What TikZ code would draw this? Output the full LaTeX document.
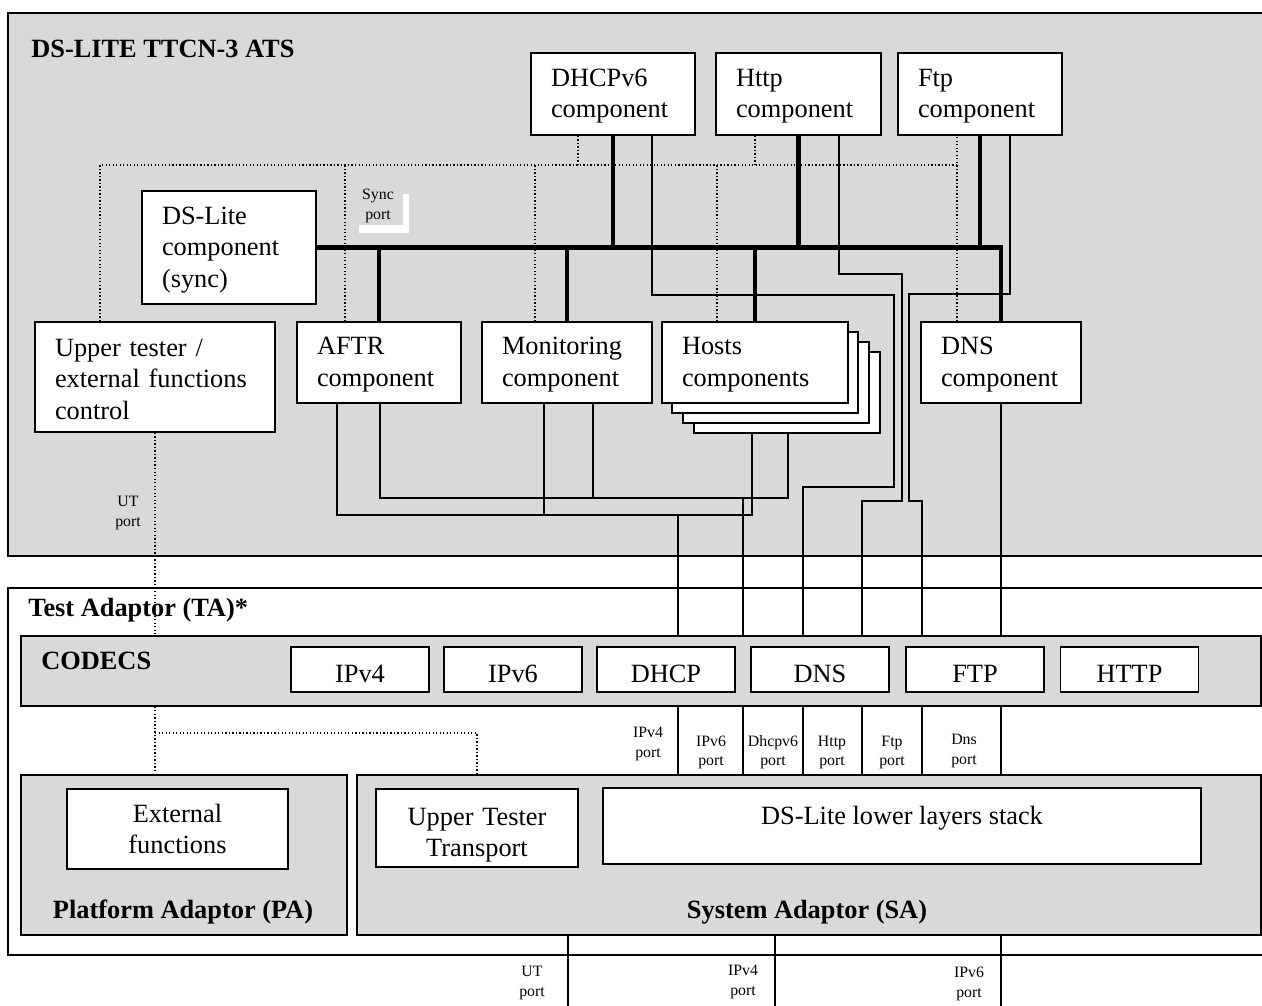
\documentclass[tikz,border=0pt]{standalone}
\usepackage{fontspec}
\setmainfont{Liberation Serif}
\usepackage{xcolor}
\usepackage{tikz}
\usetikzlibrary{positioning}
\definecolor{boxgray}{RGB}{217,217,217}

\begin{document}
\begin{tikzpicture}[x=0.02cm, y=-0.02cm,
  font=\fontsize{15}{18}\selectfont,
  every node/.style={align=center},
  frame/.style={draw, line width=1pt, inner sep=0pt},
  comp/.style={draw, fill=white, line width=1pt, align=left, inner xsep=0.4cm, inner ysep=0pt, minimum height=1.62cm, text height=12.5pt},
  codec/.style={draw, fill=white, line width=1pt, minimum width=2.76cm, minimum height=0.9cm, text height=15pt, text depth=0pt, inner sep=0pt},
  ttl/.style={font=\fontsize{15}{18}\selectfont\bfseries, inner sep=0pt},
  port/.style={font=\fontsize{9}{11}\selectfont, inner sep=0pt},
  bus/.style={line width=2.8pt},
  sig/.style={line width=0.8pt},
  dot/.style={line width=0.7pt, dash pattern=on 0.7pt off 1.3pt}]

\useasboundingbox (0,0) rectangle (1262,1006);
\clip (0,0) rectangle (1262,1006);

% ---------------- containers ----------------
\node[frame, fill=boxgray, anchor=north west, minimum width=25.26cm, minimum height=10.86cm] (ats) at (7,12) {};
\node[frame, fill=white, anchor=north west, minimum width=25.26cm, minimum height=7.34cm] (ta) at (7,587) {};
\node[frame, fill=boxgray, anchor=north west, minimum width=24.8cm, minimum height=1.4cm] (codecs) at (20,635) {};
\node[frame, fill=boxgray, anchor=north west, minimum width=6.52cm, minimum height=3.2cm] (pa) at (20,774) {};
\node[frame, fill=boxgray, anchor=north west, minimum width=18.08cm, minimum height=3.2cm] (sa) at (356,774) {};

\node[ttl, anchor=base west] (atst) at (31,58) {DS-LITE TTCN-3 ATS};
\node[ttl, anchor=base west] (tat) at (28,617) {Test Adaptor (TA)*};
\node[ttl, anchor=base west] (codecst) at (41,670) {CODECS};
\node[ttl, anchor=base] (pat) at (183,918) {Platform Adaptor (PA)};
\node[ttl, anchor=base] (sat) at (807,918) {System Adaptor (SA)};

% ---------------- test components ----------------
\node[comp, minimum width=3.28cm, minimum height=1.64cm, text width=2.48cm] (dhcp) at (613,94) {DHCPv6\\component};
\node[comp, minimum width=3.3cm, minimum height=1.64cm, text width=2.5cm] (http) at (798.5,94) {Http\\component};
\node[comp, minimum width=3.28cm, minimum height=1.64cm, text width=2.48cm] (ftp) at (980,94) {Ftp\\component};
\node[comp, minimum width=3.48cm, minimum height=2.26cm, text width=2.68cm] (dsl) at (229,247.5) {DS-Lite\\component\\(sync)};
\node[comp, minimum width=4.8cm, minimum height=2.2cm, text width=4cm] (ut) at (155,377) {Upper tester /\\external functions\\control};
\node[comp, minimum width=3.28cm, text width=2.48cm] (aftr) at (379,362.5) {AFTR\\component};
\node[comp, minimum width=3.4cm, text width=2.6cm] (mon) at (567,362.5) {Monitoring\\component};
\node[comp, minimum width=3.72cm] (hosts3) at (787,392.5) {};
\node[comp, minimum width=3.72cm] (hosts2) at (776,382.5) {};
\node[comp, minimum width=3.72cm] (hosts1) at (765,372.5) {};
\node[comp, minimum width=3.72cm, text width=2.92cm] (hosts) at (755,362.5) {Hosts\\components};
\node[comp, minimum width=3.2cm, text width=2.4cm] (dns) at (1001,362.5) {DNS\\component};

% ---------------- codecs and adaptors ----------------
\node[codec] (ipv4) at (360,669.5) {IPv4};
\node[codec] (ipv6) at (513,669.5) {IPv6};
\node[codec] (dhcpc) at (666,669.5) {DHCP};
\node[codec] (dnsc) at (820,669.5) {DNS};
\node[codec] (ftpc) at (975,669.5) {FTP};
\node[codec] (httpc) at (1129.5,669.5) {HTTP};
\node[frame, fill=white, minimum width=4.42cm, minimum height=1.6cm] (ext) at (177.5,829) {External\\functions};
\node[frame, fill=white, minimum width=4.04cm, minimum height=1.56cm, text width=3.6cm, text height=18pt] (utt) at (477,828) {Upper Tester\\Transport};
\node[frame, fill=white, minimum width=11.96cm, minimum height=1.52cm, text height=10pt, text depth=12pt] (stack) at (902,826) {DS-Lite lower layers stack};

% ---------------- sync ports (dotted) ----------------
\coordinate (sync) at (0,165);
\draw[dot] (ut.north -| 100,0) -- (sync -| 100,0) -- (sync -| 957,0);
\draw[dot] (aftr.north -| 345,0) -- (sync -| 345,0);
\draw[dot] (mon.north -| 535,0) -- (sync -| 535,0);
\draw[dot] (hosts.north -| 717,0) -- (sync -| 717,0);
\draw[dot] (dns.north -| 957,0) -- (ftp.south -| 957,0);
\draw[dot] (dhcp.south -| 578,0) -- (sync -| 578,0);
\draw[dot] (http.south -| 755,0) -- (sync -| 755,0);
\fill[white] (359,225) rectangle (409,233);
\fill[white] (403,194) rectangle (409,233);
\node[port] (syncp) at (378,206) {Sync\\port};

% ---------------- sync bus (thick) ----------------
\draw[bus] (dsl.east) -| (dns.north);
\draw[bus] (dhcp.south) -- (dhcp.south |- dsl.east);
\draw[bus] (http.south) -- (http.south |- dsl.east);
\draw[bus] (ftp.south) -- (ftp.south |- dsl.east);
\draw[bus] (aftr.north) -- (aftr.north |- dsl.east);
\draw[bus] (mon.north) -- (mon.north |- dsl.east);
\draw[bus] (hosts.north) -- (hosts.north |- dsl.east);

% ---------------- test ports ----------------
\draw[sig] (aftr.south -| 337,0) |- (678,515) -| (hosts3.south -| 752,0);
\draw[sig] (mon.south -| 544,0) -- (544,515);
\draw[sig] (678,515) -- (codecs.north -| 678,0);
\draw[sig] (aftr.south -| 380,0) |- (743,498) -| (hosts3.south -| 788,0);
\draw[sig] (mon.south -| 593,0) -- (593,498);
\draw[sig] (743,498) -- (codecs.north -| 743,0);
\draw[sig] (dhcp.south -| 652,0) |- (894,295) |- (803,487) -- (codecs.north -| 803,0);
\draw[sig] (http.south -| 839,0) |- (902,274) |- (862,501) -- (codecs.north -| 862,0);
\draw[sig] (ftp.south -| 1010,0) |- (909,294) |- (922,501) -- (codecs.north -| 922,0);
\draw[sig] (dns.south) -- (codecs.north -| dns.south);

% codecs -> system adaptor
\draw[sig] (codecs.south -| 678,0) -- (sa.north -| 678,0);
\draw[sig] (codecs.south -| 743,0) -- (sa.north -| 743,0);
\draw[sig] (codecs.south -| 803,0) -- (sa.north -| 803,0);
\draw[sig] (codecs.south -| 862,0) -- (sa.north -| 862,0);
\draw[sig] (codecs.south -| 922,0) -- (sa.north -| 922,0);
\draw[sig] (codecs.south -| dns.south) -- (sa.north -| dns.south);
\node[port] (ipv4p) at (648,744) {IPv4\\port};
\node[port] (ipv6p) at (711,752.5) {IPv6\\port};
\node[port] (dhcpp) at (773,752.5) {Dhcpv6\\port};
\node[port] (httpp) at (832,752.5) {Http\\port};
\node[port] (ftpp) at (892,752.5) {Ftp\\port};
\node[port] (dnsp) at (964,751) {Dns\\port};

% upper tester port
\draw[dot] (ut.south) -- (ut.south |- codecs.north);
\draw[dot] (ut.south |- codecs.south) -- (ut.south |- pa.north);
\draw[dot] (ut.south |- 0,733) -| (utt.north |- sa.north);
\node[port] (utp) at (128,513) {UT\\port};

% ---------------- system adaptor to SUT ----------------
\draw[sig] (sa.south -| 568,0) -- (568,1006);
\draw[sig] (sa.south -| 775,0) -- (775,1006);
\draw[sig] (sa.south -| dns.south) -- (dns.south |- 0,1006);
\node[port] (utbp) at (532,983) {UT\\port};
\node[port] (ipv4bp) at (743,982) {IPv4\\port};
\node[port] (ipv6bp) at (969,984) {IPv6\\port};
\end{tikzpicture}
\end{document}
